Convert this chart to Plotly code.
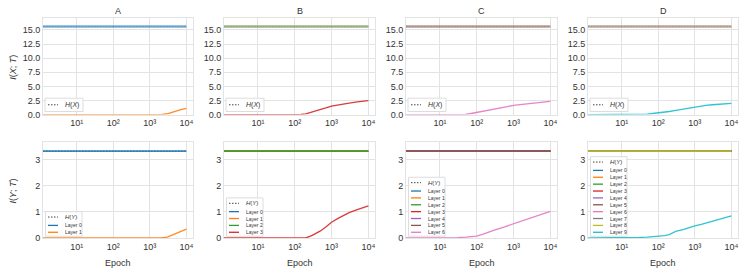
import plotly.graph_objects as go

W, H = 748, 280

# ---------------- data ----------------
epochs = [1, 2, 5, 10, 20, 30, 50, 70, 100, 150, 200, 300, 500, 700,
          1000, 1500, 2000, 3000, 5000, 7000, 10000]
H_X = 15.61
H_Y = 3.32
panel_titles = ["A", "B", "C", "D"]
n_layers = [2, 4, 7, 10]
layer_names = ["Layer 0", "Layer 1", "Layer 2", "Layer 3", "Layer 4",
               "Layer 5", "Layer 6", "Layer 7", "Layer 8", "Layer 9"]
layer_colors = ["#1f77b4", "#ff7f0e", "#2ca02c", "#d62728", "#9467bd",
                "#8c564b", "#e377c2", "#7f7f7f", "#bcbd22", "#17becf"]

# I(X;T) of the last (deepest) layer in each network
ixt_A = [0, 0, 0, 0, 0, 0, 0, 0, 0, 0, 0, 0, 0, 0, 0, 0, 0, 0.15, 0.62, 0.88, 1.1]
ixt_B = [0, 0, 0, 0, 0, 0, 0, 0, 0, 0.02, 0.15, 0.45, 0.85, 1.18, 1.5, 1.75, 1.9, 2.05, 2.25, 2.38, 2.48]
ixt_C = [0, 0, 0, 0, 0, 0, 0.02, 0.2, 0.4, 0.65, 0.82, 1.05, 1.3, 1.48, 1.63, 1.78, 1.88, 2.0, 2.15, 2.25, 2.33]
ixt_D = [0, 0, 0, 0, 0, 0.02, 0.1, 0.2, 0.3, 0.45, 0.55, 0.75, 1.0, 1.2, 1.4, 1.55, 1.62, 1.75, 1.85, 1.93, 2.0]
# I(Y;T) of the last layer
iyt_A = [0, 0, 0, 0, 0, 0, 0, 0, 0, 0, 0, 0, 0, 0, 0, 0, 0, 0.03, 0.17, 0.26, 0.34]
iyt_B = [0, 0, 0, 0, 0, 0, 0, 0, 0, 0, 0, 0.1, 0.27, 0.42, 0.6, 0.75, 0.85, 0.97, 1.08, 1.16, 1.23]
iyt_C = [0, 0, 0, 0, 0, 0.01, 0.03, 0.05, 0.07, 0.15, 0.22, 0.3, 0.4, 0.47, 0.54, 0.62, 0.7, 0.79, 0.89, 0.96, 1.02]
iyt_D = [0, 0, 0, 0, 0.01, 0.02, 0.03, 0.04, 0.05, 0.09, 0.13, 0.25, 0.33, 0.4, 0.46, 0.52, 0.57, 0.65, 0.72, 0.78, 0.84]

ixt_last = [ixt_A, ixt_B, ixt_C, ixt_D]
iyt_last = [iyt_A, iyt_B, iyt_C, iyt_D]

x_tickvals = [10, 100, 1000, 10000]
x_ticktext = ["10\u00b9", "10\u00b2", "10\u00b3", "10\u2074"]
top_yticks = [0, 2.5, 5, 7.5, 10, 12.5, 15]
bot_yticks = [0, 1, 2, 3]

# ---------------- layout geometry (pixels) ----------------
col_px = [(43, 193), (224, 375), (406, 557), (588, 738)]
row_px = [(18, 116.7), (145, 242.3)]

FONT = "Liberation Sans, Arial, DejaVu Sans, sans-serif"
GRID = "#e3e3e3"
TXT = "#333333"
DOT = "1.5px,1.5px"


def fx(p):
    return p / W


def fy(p):
    return 1 - p / H


fig = go.Figure()
layout = {}
shapes = []
annotations = []

for r in range(2):
    for c in range(4):
        idx = r * 4 + c + 1
        xa = "x" if idx == 1 else f"x{idx}"
        ya = "y" if idx == 1 else f"y{idx}"
        n = n_layers[c]
        Hval = H_X if r == 0 else H_Y
        last = ixt_last[c] if r == 0 else iyt_last[c]

        # entropy reference line
        fig.add_trace(go.Scatter(
            x=epochs, y=[Hval] * len(epochs), mode="lines",
            line=dict(color="#999999" if r == 0 else "#555555", width=1, dash=DOT),
            opacity=0.6 if r == 0 else 1.0,
            xaxis=xa, yaxis=ya, showlegend=False, hoverinfo="skip"))
        # saturated layers
        if r == 0:
            a = 1 - 0.42 ** (1.0 / (n - 1))
        else:
            a = 0.85
        for k in range(n - 1):
            fig.add_trace(go.Scatter(
                x=epochs, y=[Hval] * len(epochs), mode="lines",
                line=dict(color=layer_colors[k], width=2.6 if r == 0 else 1.8),
                opacity=a,
                xaxis=xa, yaxis=ya, showlegend=False))
        # deepest layer
        fig.add_trace(go.Scatter(
            x=epochs, y=last, mode="lines",
            line=dict(color=layer_colors[n - 1], width=1.3),
            opacity=0.9,
            xaxis=xa, yaxis=ya, showlegend=False))

        x0, x1 = col_px[c]
        y0, y1 = row_px[r]
        layout["xaxis" if idx == 1 else f"xaxis{idx}"] = dict(
            domain=[fx(x0), fx(x1)], anchor=ya, type="log",
            range=[0.08, 4.18], tickvals=x_tickvals, ticktext=x_ticktext,
            showgrid=True, gridcolor=GRID, gridwidth=1,
            showline=True, linecolor=GRID, mirror=True, linewidth=1,
            ticks="", tickfont=dict(size=9, color=TXT, family=FONT),
            zeroline=False)
        layout["yaxis" if idx == 1 else f"yaxis{idx}"] = dict(
            domain=[fy(y1), fy(y0)], anchor=xa,
            range=[0, Hval * 1.1],
            tickvals=top_yticks if r == 0 else bot_yticks,
            tickformat=".1f" if r == 0 else "d",
            showgrid=True, gridcolor=GRID, gridwidth=1,
            showline=True, linecolor=GRID, mirror=True, linewidth=1,
            ticks="", tickfont=dict(size=9, color=TXT, family=FONT),
            zeroline=False)

        # ---- legends (drawn as shapes + text) ----
        if r == 0:
            shapes.append(dict(type="rect", xref="paper", yref="paper",
                               x0=fx(x0 + 2), x1=fx(x0 + 40), y0=fy(113.5), y1=fy(100),
                               line=dict(color="#dddddd", width=1),
                               fillcolor="rgba(255,255,255,0.85)", layer="above"))
            ey = 106.7
            shapes.append(dict(type="line", xref="paper", yref="paper",
                               x0=fx(x0 + 5), x1=fx(x0 + 15), y0=fy(ey), y1=fy(ey),
                               line=dict(color="#444444", width=1, dash=DOT),
                               layer="above"))
            annotations.append(dict(text="<i>H</i>(<i>X</i>)", xref="paper", yref="paper",
                                    x=fx(x0 + 20), y=fy(ey), xanchor="left", yanchor="middle",
                                    showarrow=False,
                                    font=dict(size=7, color=TXT, family=FONT)))
        else:
            last_y = 236.5
            step = 7.0
            ys = [last_y - (n - 1 - k) * step for k in range(n)]
            hy = ys[0] - 8.5
            shapes.append(dict(type="rect", xref="paper", yref="paper",
                               x0=fx(x0 + 2.5), x1=fx(x0 + 39), y0=fy(240.5), y1=fy(hy - 5.5),
                               line=dict(color="#dddddd", width=1),
                               fillcolor="rgba(255,255,255,0.85)", layer="above"))
            shapes.append(dict(type="line", xref="paper", yref="paper",
                               x0=fx(x0 + 5), x1=fx(x0 + 15), y0=fy(hy), y1=fy(hy),
                               line=dict(color="#444444", width=1, dash=DOT),
                               layer="above"))
            annotations.append(dict(text="<i>H</i>(<i>Y</i>)", xref="paper", yref="paper",
                                    x=fx(x0 + 20), y=fy(hy), xanchor="left", yanchor="middle",
                                    showarrow=False,
                                    font=dict(size=6, color=TXT, family=FONT)))
            for k in range(n):
                shapes.append(dict(type="line", xref="paper", yref="paper",
                                   x0=fx(x0 + 5), x1=fx(x0 + 15), y0=fy(ys[k]), y1=fy(ys[k]),
                                   line=dict(color=layer_colors[k], width=1.3),
                                   layer="above"))
                annotations.append(dict(text=layer_names[k], xref="paper", yref="paper",
                                        x=fx(x0 + 20), y=fy(ys[k]), xanchor="left",
                                        yanchor="middle", showarrow=False,
                                        font=dict(size=5, color=TXT, family=FONT)))

# titles, axis labels
for c in range(4):
    x0, x1 = col_px[c]
    annotations.append(dict(text=panel_titles[c], xref="paper", yref="paper",
                            x=fx((x0 + x1) / 2), y=fy(11), xanchor="center", yanchor="middle",
                            showarrow=False, font=dict(size=9, color=TXT, family=FONT)))
    annotations.append(dict(text="Epoch", xref="paper", yref="paper",
                            x=fx((x0 + x1) / 2), y=fy(267.5), xanchor="center", yanchor="middle",
                            showarrow=False, font=dict(size=9, color=TXT, family=FONT)))

annotations.append(dict(text="<i>I</i>(<i>X</i>; <i>T</i>)", xref="paper", yref="paper",
                        x=fx(13), y=fy(69), textangle=-90, xanchor="center", yanchor="middle",
                        showarrow=False, font=dict(size=9, color=TXT, family=FONT)))
annotations.append(dict(text="<i>I</i>(<i>Y</i>; <i>T</i>)", xref="paper", yref="paper",
                        x=fx(13), y=fy(195), textangle=-90, xanchor="center", yanchor="middle",
                        showarrow=False, font=dict(size=9, color=TXT, family=FONT)))

fig.update_layout(
    width=W, height=H,
    margin=dict(l=0, r=0, t=0, b=0),
    paper_bgcolor="white", plot_bgcolor="white",
    showlegend=False,
    shapes=shapes, annotations=annotations,
    font=dict(family=FONT, color=TXT),
    **layout)

fig.write_html("out.html",
               config={"displayModeBar": False},
               post_script="document.body.style.margin='0px';document.body.style.padding='0px';")
